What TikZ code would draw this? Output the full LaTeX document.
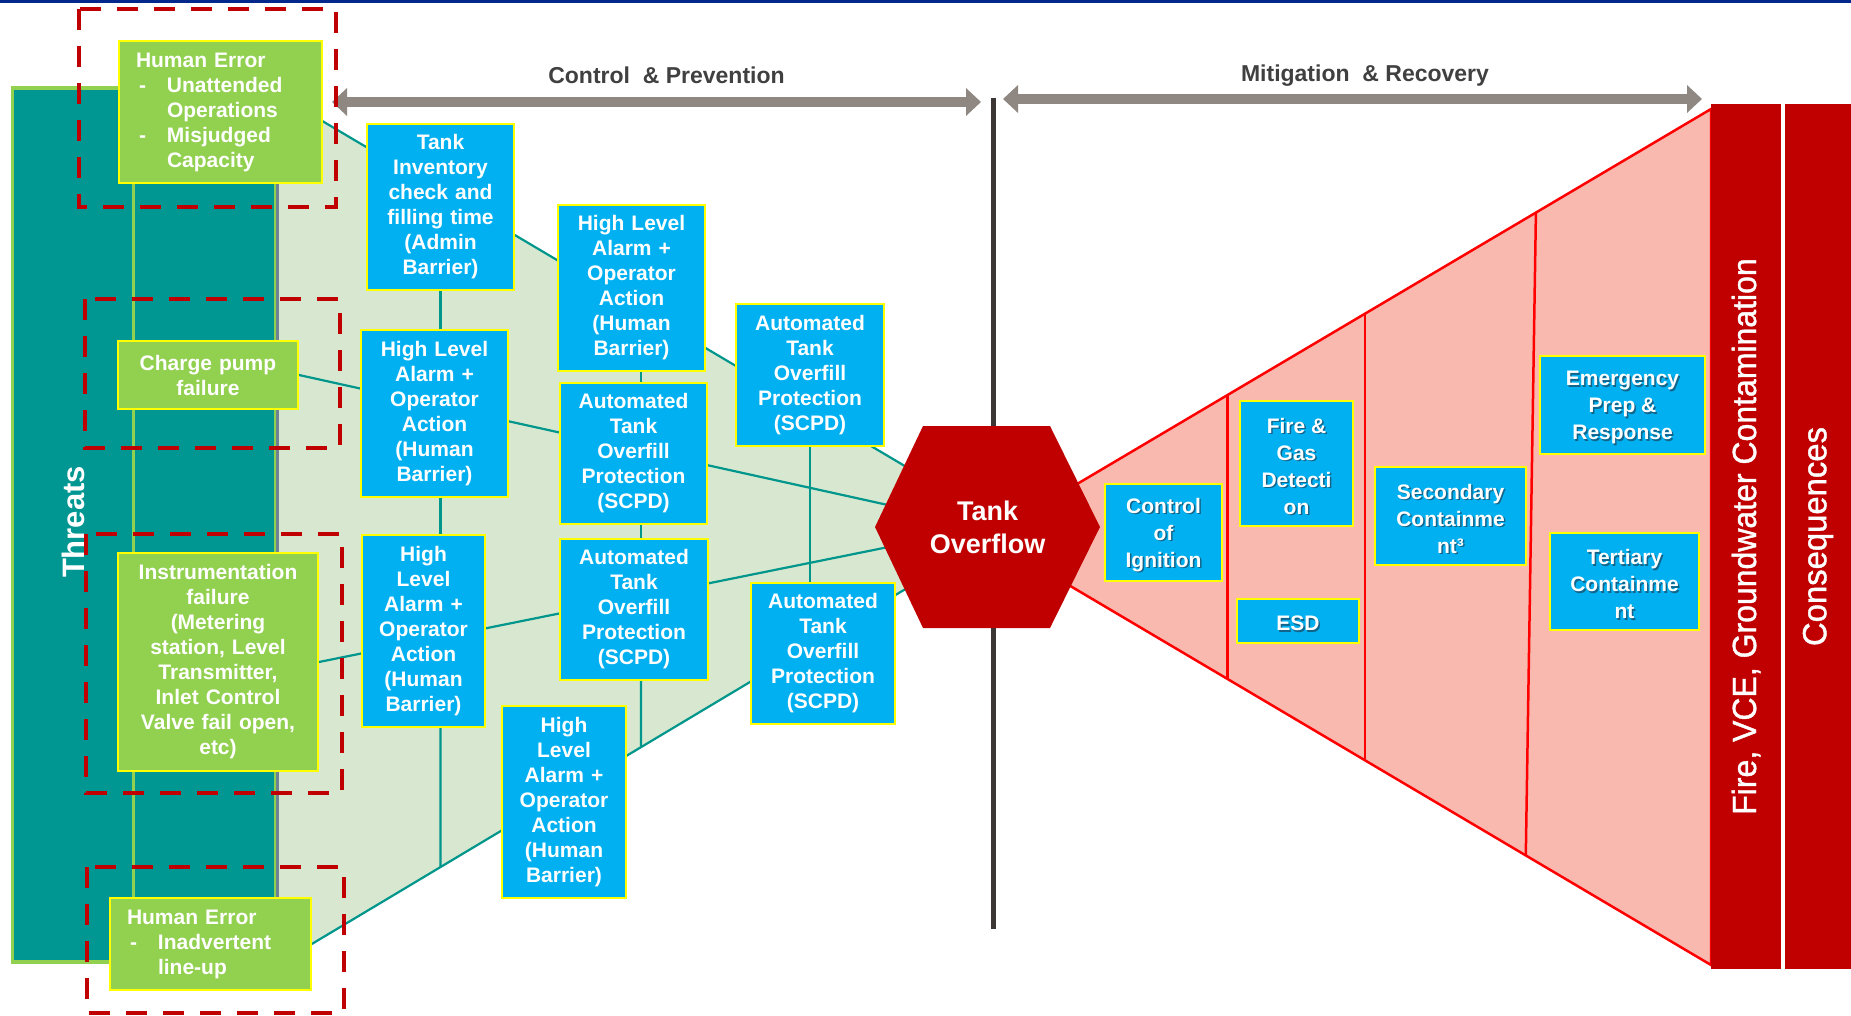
\documentclass[tikz,border=0pt]{standalone}
\usepackage{graphicx}
\usepackage{fontspec}
\setmainfont{Liberation Sans}
\newfontfamily\barfont[FakeBold=1.2]{Liberation Sans}
\usetikzlibrary{calc,arrows.meta}
\pgfdeclarelayer{bgl}\pgfdeclarelayer{fanl}\pgfdeclarelayer{linel}\pgfdeclarelayer{hexl}
\pgfsetlayers{bgl,fanl,linel,hexl,main}
\definecolor{navy}{RGB}{0,40,140}
\definecolor{tealp}{RGB}{0,150,145}
\definecolor{tline}{RGB}{0,150,140}
\definecolor{fangreen}{RGB}{216,232,208}
\definecolor{greenbox}{RGB}{146,208,80}
\definecolor{ybord}{RGB}{255,255,0}
\definecolor{bluebox}{RGB}{0,176,240}
\definecolor{darkred}{RGB}{192,0,0}
\definecolor{pinkfan}{RGB}{250,185,175}
\definecolor{redline}{RGB}{255,0,0}
\definecolor{grayar}{RGB}{143,136,130}
\definecolor{blk}{RGB}{60,55,52}
\definecolor{hdrtext}{RGB}{64,64,64}
\definecolor{edgeblue}{RGB}{110,130,150}
\definecolor{shadowc}{RGB}{30,50,70}
\newcommand\hd{\makebox[31pt][l]{\hspace{3pt}-}}
\newcommand\hi{\hspace*{31pt}}
\tikzset{
  lbox/.style={draw=ybord, line width=2pt, fill=bluebox, text=white, align=center, inner sep=0pt,
    font=\bfseries\fontsize{21}{25}\selectfont},
  gbox/.style={draw=ybord, line width=2pt, fill=greenbox, text=white, inner sep=0pt,
    font=\bfseries\fontsize{21}{25}\selectfont},
  rbox/.style={draw=ybord, line width=2pt, fill=bluebox, inner sep=0pt},
  rtxt/.style={text=white, align=center, inner sep=0pt, font=\bfseries\fontsize{21}{27}\selectfont},
  tl/.style={draw=tline, line width=2.2pt},
  rl/.style={draw=redline, line width=2.5pt},
  dbox/.style={draw=darkred, line width=4.5pt, dash pattern=on 21pt off 16pt},
  garrow/.style={draw=grayar, line width=10pt, arrows={Triangle[width=27pt,length=15pt]-Triangle[width=27pt,length=15pt]}},
  hdr/.style={text=hdrtext, font=\bfseries\fontsize{23}{27}\selectfont, inner sep=0pt},
  redbar/.style={fill=darkred, text=white, inner sep=0pt},
}
\newcommand\rtbox[6]{%
  \node[rbox, minimum width=#4pt, minimum height=#5pt] (#1) at (#2,#3) {};
  \node[rtxt, text=shadowc, opacity=0.6] (#1-s) at ($(#1.center)+(1.5,4)$) {#6};
  \node[rtxt] (#1-t) at ($(#1.center)+(0,2.5)$) {#6};
}
\begin{document}
\begin{tikzpicture}[x=1pt,y=-1pt]
\useasboundingbox (0,0) rectangle (1851,1016);
\begin{pgfonlayer}{bgl}
\fill[white] (0,0) rectangle (1851,1016);
\fill[navy] (0,0) rectangle (1851,3.5);
\end{pgfonlayer}

% key coordinates
\coordinate (ftl) at (275,93);
\coordinate (fbl) at (275,966);
\coordinate (hexc) at (987.5,527);
\coordinate (fue) at (987.5,515);
\coordinate (fle) at (987.5,540);
\coordinate (rap) at (987.5,537);
\coordinate (rtop) at (1711,109);
\coordinate (rbot) at (1711,965);
\coordinate (vtop) at (993,98);
\coordinate (vbot) at (993,929);
\coordinate (cline) at (641,0);

% threats panel
\node[draw=greenbox, line width=3.5pt, fill=tealp, minimum width=263pt, minimum height=874pt, inner sep=0pt] (panel) at (144,525) {};
\coordinate (inl) at (133,0);
\draw[greenbox, line width=3pt] (inl|-panel.north) -- (inl|-panel.south);
\draw[edgeblue, line width=3.5pt] (panel.north east) -- (panel.south east);
\node[rotate=90, text=white, font=\bfseries\fontsize{31}{31}\selectfont, inner sep=0pt] (thr) at (73,522) {Threats};

% threat boxes
\node[gbox, align=left, text width=169pt, inner xsep=17pt, minimum height=142pt] (he1) at (220.5,112)
  {Human Error\\\hd Unattended\\\hi Operations\\\hd Misjudged\\\hi Capacity};
\node[gbox, align=center, text width=176pt, minimum width=180pt, minimum height=68pt] (cp) at (208,375)
  {Charge pump\\failure};
\node[gbox, align=center, text width=196pt, minimum width=200pt, minimum height=218pt] (ins) at (218,662)
  {Instrumentation\\failure\\(Metering\\station, Level\\Transmitter,\\Inlet Control\\Valve fail open,\\etc)};
\node[gbox, align=left, text width=167pt, inner xsep=17pt, minimum height=92pt] (he2) at (210.5,944)
  {Human Error\\\hd Inadvertent\\\hi line-up};

% prevention barriers
\node[lbox, text width=145pt, minimum width=147pt, minimum height=166pt] (b1) at (440.5,207)
  {Tank\\Inventory\\check and\\filling time\\(Admin\\Barrier)};
\node[lbox, text width=145pt, minimum width=147pt, minimum height=167pt] (b2) at (434.5,413.5)
  {High Level\\Alarm +\\Operator\\Action\\(Human\\Barrier)};
\node[lbox, text width=121pt, minimum width=123pt, minimum height=192pt] (b3) at (423.5,631)
  {High\\Level\\Alarm +\\Operator\\Action\\(Human\\Barrier)};
\node[lbox, text width=122pt, minimum width=124pt, minimum height=192pt] (b4) at (564,802)
  {High\\Level\\Alarm +\\Operator\\Action\\(Human\\Barrier)};
\node[lbox, text width=145pt, minimum width=147pt, minimum height=166pt] (c1) at (631.5,288)
  {High Level\\Alarm +\\Operator\\Action\\(Human\\Barrier)};
\node[lbox, text width=145pt, minimum width=147pt, minimum height=141pt] (c2) at (633.5,453.5)
  {Automated\\Tank\\Overfill\\Protection\\(SCPD)};
\node[lbox, text width=146pt, minimum width=148pt, minimum height=141pt] (c3) at (634,609.5)
  {Automated\\Tank\\Overfill\\Protection\\(SCPD)};
\node[lbox, text width=146pt, minimum width=148pt, minimum height=142pt] (d1) at (810,375)
  {Automated\\Tank\\Overfill\\Protection\\(SCPD)};
\node[lbox, text width=142pt, minimum width=144pt, minimum height=141pt] (d2) at (823,653.5)
  {Automated\\Tank\\Overfill\\Protection\\(SCPD)};

% vertical connectors
\coordinate (b3b) at (b1.south|-b3.south);
\coordinate (c3b) at (cline|-c3.south);
\coordinate (v1) at (intersection of fbl--fle and b1.south--b3b);
\coordinate (v2) at (intersection of fbl--fle and cline--c3b);
\draw[tl] (b1.south) -- (b1.south|-b2.north);
\draw[tl] (b1.south|-b2.south) -- (b1.south|-b3.north);
\draw[tl] (b3b) -- (v1);
\draw[tl] (cline|-c1.south) -- (cline|-c2.north);
\draw[tl] (cline|-c2.south) -- (cline|-c3.north);
\draw[tl] (c3b) -- (v2);
\draw[tl] (d1.south) -- (d1.south|-d2.north);

% hexagon label
\node[text=white, align=center, font=\bfseries\fontsize{27}{33}\selectfont, inner sep=0pt] (hex) at (hexc) {Tank\\Overflow};

% mitigation barriers
\rtbox{ci}{1163.5}{532.5}{117}{97}{Control\\of\\Ignition}
\rtbox{fg}{1296.5}{463.5}{113}{125}{Fire \&\\Gas\\Detecti\\on}
\rtbox{esd}{1298}{621}{122}{44}{ESD}
\rtbox{sec}{1450.5}{516}{151}{98}{Secondary\\Containme\\nt³}
\rtbox{emg}{1622.5}{405}{165}{98}{Emergency\\Prep \&\\Response}
\rtbox{ter}{1624.5}{581.5}{149}{97}{Tertiary\\Containme\\nt}

% consequences
\node[redbar, rotate=90, minimum width=865pt, minimum height=70pt] (fire) at (1746,536.5)
  {\scalebox{0.955}[1]{\barfont\fontsize{33.5}{33.5}\selectfont Fire, VCE, Groundwater Contamination}};
\node[redbar, rotate=90, minimum width=865pt, minimum height=67pt] (cons) at (1818,536.5)
  {\scalebox{0.98}[1]{\barfont\fontsize{33.5}{33.5}\selectfont Consequences}};

% arrows and headers
\coordinate (ca1) at (332,102);
\coordinate (ca2) at (981,102);
\coordinate (ma1) at (1003,99);
\coordinate (ma2) at (1702,99);
\draw[garrow] (ca1) -- (ca2);
\draw[garrow] (ma1) -- (ma2);
\node[hdr] (cph) at (666.5,75.5) {Control\ \ \& Prevention};
\node[hdr] (mrh) at (1365,75.5) {Mitigation\ \ \& Recovery};

% dashed groups
\draw[dbox] (79,9) rectangle (336,207);
\draw[dbox] (85,299) rectangle (340,448);
\draw[dbox] (86,534) rectangle (342,793);
\draw[dbox] (87,867) rectangle (344,1013);

% background layers
\begin{pgfonlayer}{fanl}
\fill[fangreen] (ftl) -- (fue) -- (fle) -- (fbl) -- cycle;
\filldraw[fill=pinkfan, rl, line join=miter] (rap) -- (rtop) -- (rbot) -- cycle;
\draw[rl] ($(rap)!0.332!(rtop)$) -- ($(rap)!0.332!(rbot)$);
\draw[rl] ($(rap)!0.522!(rtop)$) -- ($(rap)!0.522!(rbot)$);
\draw[rl] ($(rap)!0.758!(rtop)$) -- ($(rap)!0.744!(rbot)$);
\end{pgfonlayer}
\begin{pgfonlayer}{linel}
\draw[tl] (ftl) -- (fue);
\draw[tl] (fbl) -- (fle);
\draw[tl] (cp.east) -- (hexc);
\draw[tl] (ins.east) -- (hexc);
\draw[blk, line width=5pt] (vtop) -- (vbot);
\end{pgfonlayer}
\begin{pgfonlayer}{hexl}
\fill[darkred] ($(hexc)+(-112.5,0)$) -- ++(48,-101) -- ++(127,0) -- ++(50,101) -- ++(-50,101) -- ++(-127,0) -- cycle;
\end{pgfonlayer}
\end{tikzpicture}
\end{document}
